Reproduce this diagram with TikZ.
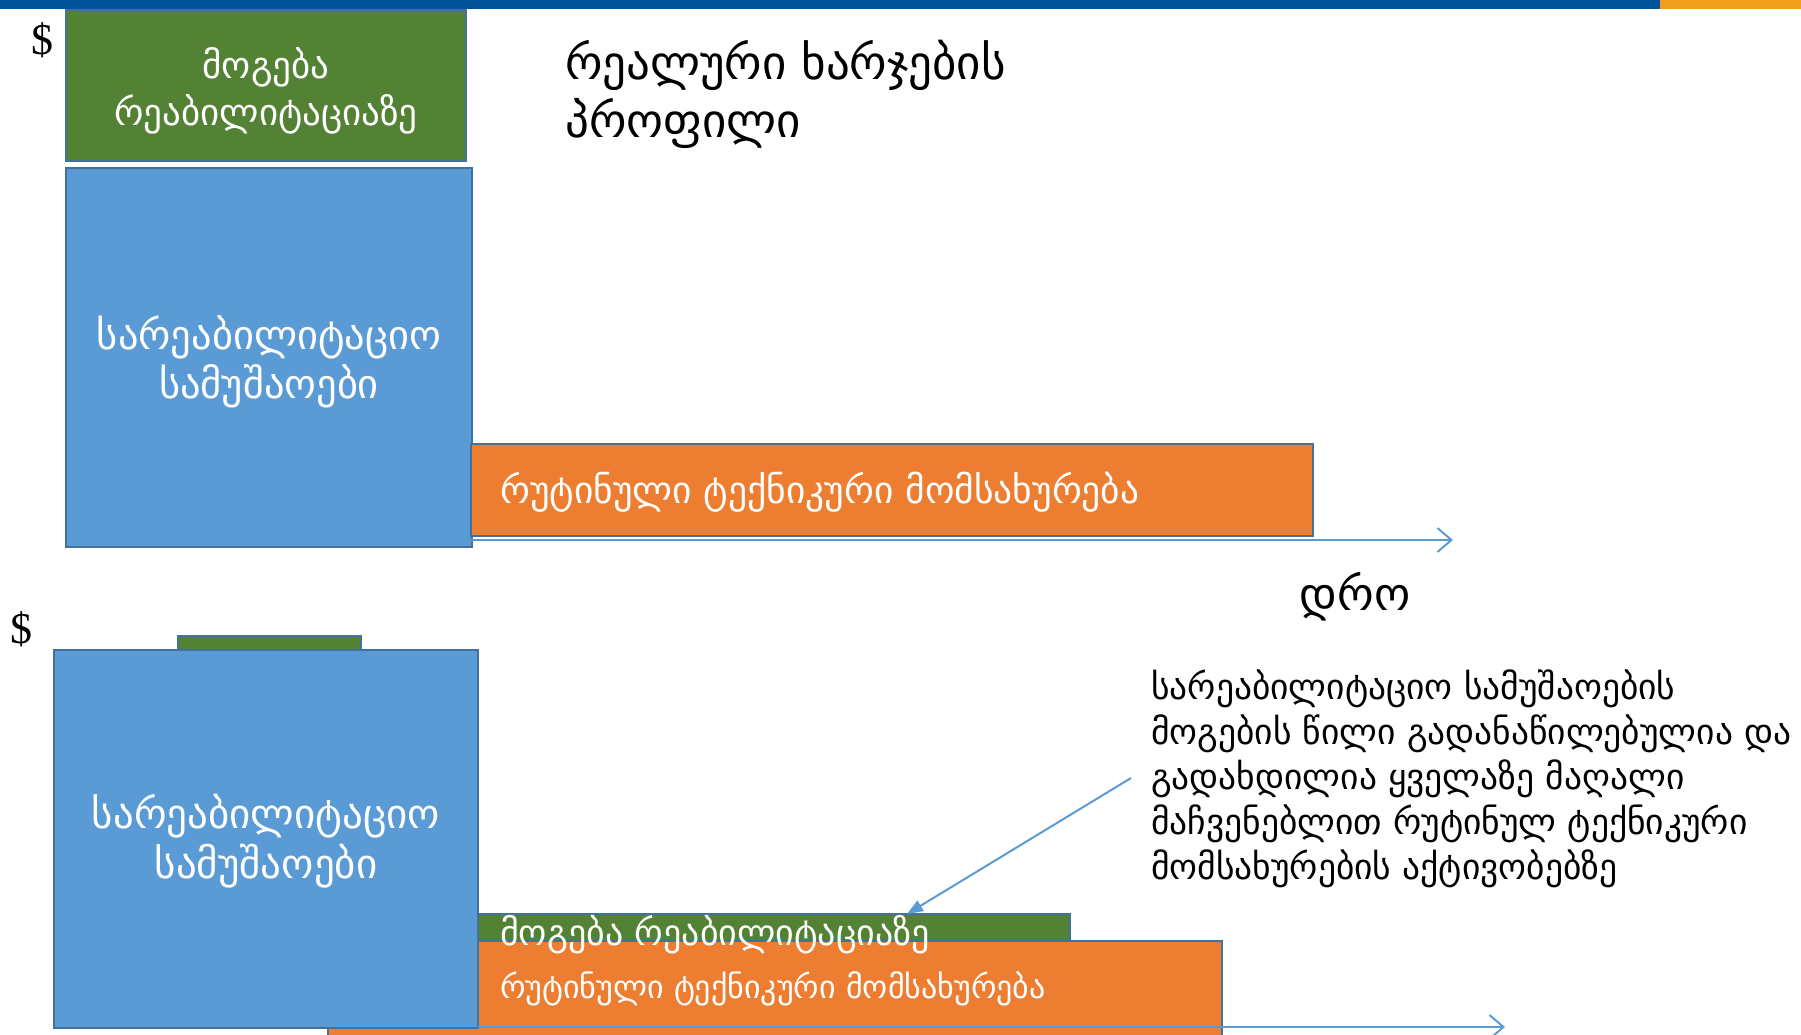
\documentclass[tikz,border=0pt]{standalone}
\usepackage{fontspec}
\setmainfont{Liberation Serif}
\newfontfamily\geo{DejaVu Sans}
\usetikzlibrary{arrows.meta}
\definecolor{topblue}{RGB}{0,83,155}
\definecolor{toporange}{RGB}{240,160,28}
\definecolor{pgreen}{RGB}{84,130,53}
\definecolor{pblue}{RGB}{91,155,213}
\definecolor{porange}{RGB}{237,125,49}
\definecolor{pedge}{RGB}{65,113,156}
\tikzset{
  barbox/.style={draw=pedge, line width=2pt, anchor=north west, inner sep=0pt, outer sep=0pt},
  wtext/.style={text=white, inner sep=0pt},
  btext/.style={text=black, inner sep=0pt},
  axisline/.style={draw=pblue, line width=2.5pt, -{Straight Barb[length=14pt,width=24pt,line width=2pt]}},
  callarrow/.style={draw=pblue, line width=2pt, -{Triangle[length=16pt,width=12pt]}},
}
\begin{document}
\begin{tikzpicture}[x=1pt,y=-1pt]
\useasboundingbox (0,0) rectangle (1801,1034);
% top bar
\fill[topblue] (0,0) rectangle (1660,9);
\fill[toporange] (1660,0) rectangle (1801,9);

% ---------- top profile ----------
\node[btext, font=\fontsize{44}{44}\selectfont] (d1) at (42,40) {\$};
\node[barbox, fill=pgreen, minimum width=400pt, minimum height=151pt] (g1) at (66,10) {};
\node[wtext, align=center, font=\geo\fontsize{37}{47}\selectfont] (g1t) at ([yshift=-5pt]g1.center) {მოგება\\რეაბილიტაციაზე};
\node[barbox, fill=pblue, minimum width=406pt, minimum height=379pt] (b1) at (66,168) {};
\node[wtext, align=center, font=\geo\fontsize{40.5}{49}\selectfont] (b1t) at ([yshift=-4pt]b1.center) {სარეაბილიტაციო\\სამუშაოები};
\node[barbox, fill=porange, minimum width=842pt, minimum height=92pt] (o1) at (471,444) {};
\node[wtext, anchor=west, font=\geo\fontsize{37.5}{40}\selectfont] (o1t) at (500,492) {რუტინული ტექნიკური მომსახურება};
\coordinate (a1s) at (471,540);
\coordinate (a1e) at (1453,540);
\draw[axisline] (a1s) -- (a1e);
\node[btext, anchor=west, align=left, font=\geo\fontsize{47}{58}\selectfont] (title) at (565,94) {რეალური ხარჯების\\პროფილი};
\node[btext, font=\geo\fontsize{46}{46}\selectfont] (time) at (1355,597) {დრო};

% ---------- bottom profile ----------
\node[btext, font=\fontsize{44}{44}\selectfont] (d2) at (21,629) {\$};
\node[barbox, fill=porange, minimum width=894pt, minimum height=100pt] (o2) at (328,941) {};
\node[barbox, fill=pgreen, minimum width=183pt, minimum height=14pt] (g2s) at (178,636) {};
\node[barbox, fill=pblue, minimum width=424pt, minimum height=378pt] (b2) at (54,650) {};
\node[wtext, align=center, font=\geo\fontsize{41}{50}\selectfont] (b2t) at ([yshift=-2pt]b2.center) {სარეაბილიტაციო\\სამუშაოები};
\node[barbox, fill=pgreen, minimum width=592pt, minimum height=27pt] (g2) at (478,914) {};
\node[wtext, anchor=west, font=\geo\fontsize{36}{36}\selectfont] (g2t) at (500,935) {მოგება რეაბილიტაციაზე};
\node[wtext, anchor=west, font=\geo\fontsize{32}{34}\selectfont] (o2t) at (500,989) {რუტინული ტექნიკური მომსახურება};
\coordinate (a2s) at (478,1027);
\coordinate (a2e) at (1505,1027);
\draw[axisline] (a2s) -- (a2e);

\node[btext, anchor=west, align=left, font=\geo\fontsize{35.5}{45}\selectfont] (call) at (1151,779) {სარეაბილიტაციო სამუშაოების\\მოგების წილი გადანაწილებულია და\\გადახდილია ყველაზე მაღალი\\მაჩვენებლით რუტინულ ტექნიკური\\მომსახურების აქტივობებზე};
\coordinate (cs) at (1131,778);
\coordinate (ce) at (907,914);
\draw[callarrow] (cs) -- (ce);
\end{tikzpicture}
\end{document}
